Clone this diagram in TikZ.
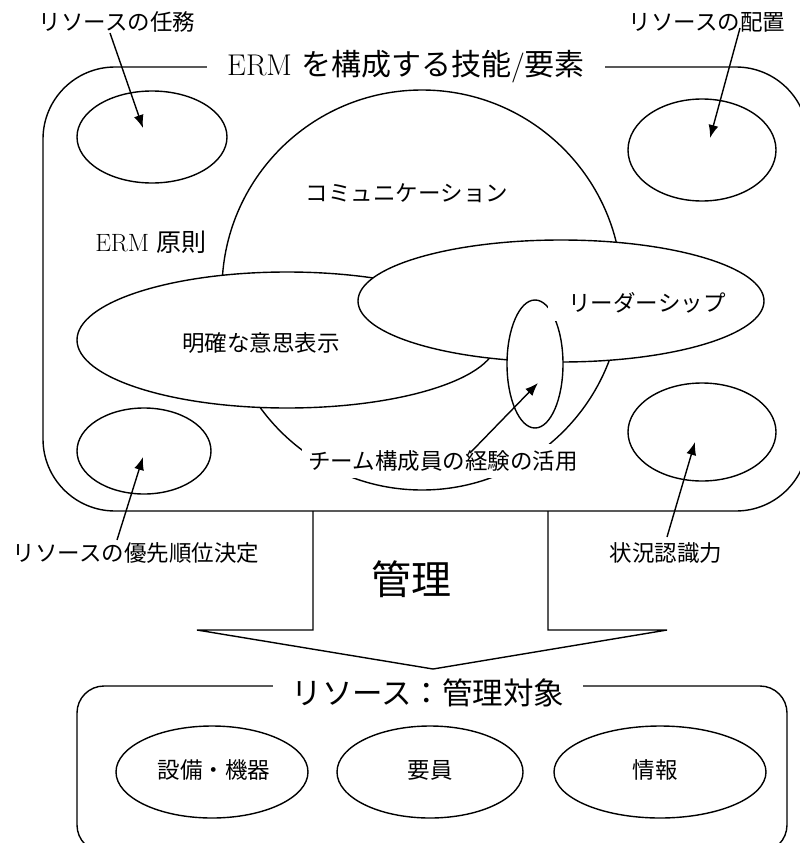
\documentclass[tikz,border=0pt]{standalone}
\usepackage{fontspec}
\newfontfamily\cjk{Noto Sans CJK JP}
\usetikzlibrary{shapes.geometric,arrows.meta}
\begin{document}
\begin{tikzpicture}[x=1pt,y=-1pt,
  ln/.style={line width=1.4pt},
  ell/.style={ellipse, draw, fill=white, line width=1.4pt, inner sep=0pt},
  lab/.style={font=\cjk\fontsize{22.5}{27}\selectfont, inner sep=2pt},
  arr/.style={-{Latex[length=13pt,width=10pt]}, line width=1.4pt},
]
\useasboundingbox (0,0) rectangle (800,843);
\clip (0,0) rectangle (800,843);
\fill[white] (0,0) rectangle (800,843);

% main frame
\draw[ln, rounded corners=72] (43,67) rectangle (808,511);
\node[fill=white, inner xsep=20pt, inner ysep=4pt, font=\fontsize{30}{36}\selectfont] (title) at (406,67)
  {ERM {\cjk を構成する技能}/{\cjk 要素}};

% four corner ellipses
\node[ell, minimum width=150pt, minimum height=92pt] (e1) at (152,137) {};
\node[ell, minimum width=148pt, minimum height=102pt] (e2) at (702,150) {};
\node[ell, minimum width=134pt, minimum height=86pt] (e3) at (144,451) {};
\node[ell, minimum width=148pt, minimum height=98pt] (e4) at (702,432) {};

% communication circle and overlapping ellipses
\node[circle, draw, fill=white, line width=1.4pt, minimum size=400pt, inner sep=0pt] (comm) at (422,290) {};
\node[ell, minimum width=420pt, minimum height=136pt] (clear) at (287,340) {};
\node[ell, minimum width=406pt, minimum height=122pt] (lead) at (561,301) {};
\node[ell, minimum width=56pt, minimum height=128pt] (exp) at (535,364) {};

\node[lab] (tcomm) at (407,193) {コミュニケーション};
\node[font=\fontsize{25}{30}\selectfont] (term) at (151,242) {ERM {\cjk 原則}};
\node[lab] (tclear) at (261,343) {明確な意思表示};
\node[lab, fill=white, inner xsep=20pt, inner ysep=8pt] (tlead) at (647,303) {リーダーシップ};
\node[lab, fill=white, inner xsep=6pt, inner ysep=7pt] (texp) at (443,461) {チーム構成員の経験の活用};

% outer labels
\node[lab] (l1) at (117,22) {リソースの任務};
\node[lab] (l2) at (707,22) {リソースの配置};
\node[lab] (l3) at (136,553) {リソースの優先順位決定};
\node[lab] (l4) at (666,553) {状況認識力};

\coordinate (a1s) at (110,33);  \coordinate (a1e) at (143,128);
\coordinate (a2s) at (740,28);  \coordinate (a2e) at (710,138);
\coordinate (a3s) at (117,540); \coordinate (a3e) at (143,457);
\coordinate (a4s) at (667,537); \coordinate (a4e) at (695,442);
\coordinate (a5s) at (470,453); \coordinate (a5e) at (538,383);
\draw[arr] (a1s) -- (a1e);
\draw[arr] (a2s) -- (a2e);
\draw[arr] (a3s) -- (a3e);
\draw[arr] (a4s) -- (a4e);
\draw[arr] (a5s) -- (a5e);

% big arrow
\draw[ln, line join=miter] (313,511) -- (313,630) -- (197,630) -- (433,669) -- (667,630) -- (548,630) -- (548,511);
\node[font=\cjk\fontsize{40}{48}\selectfont] (kanri) at (411,579) {管理};

% resources frame
\draw[ln, rounded corners=27] (77,686) rectangle (787,852);
\node[fill=white, inner xsep=19pt, inner ysep=4pt, font=\cjk\fontsize{30.5}{36}\selectfont] (rtitle) at (428,693)
  {リソース：管理対象};
\node[ell, minimum width=192pt, minimum height=92pt] (r1) at (212,772) {};
\node[ell, minimum width=186pt, minimum height=92pt] (r2) at (430,772) {};
\node[ell, minimum width=212pt, minimum height=92pt] (r3) at (660,772) {};
\node[lab] (tr1) at (214,770) {設備・機器};
\node[lab] (tr2) at (430,770) {要員};
\node[lab] (tr3) at (655,770) {情報};
\end{tikzpicture}
\end{document}
